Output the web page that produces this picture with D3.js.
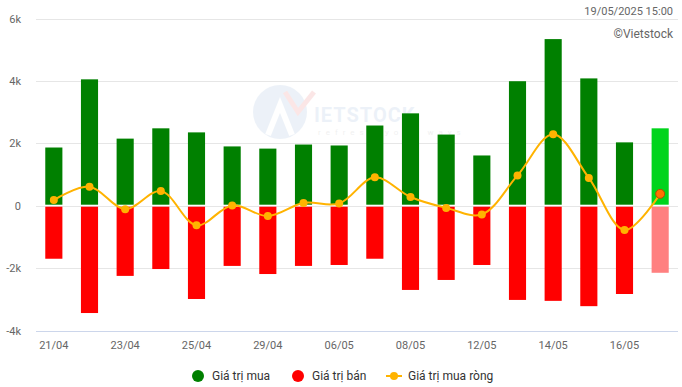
<!DOCTYPE html>
<meta charset="utf-8">
<script src="https://d3js.org/d3.v7.min.js"></script>
<style>
  body { margin: 0; background: #fff; }
  text { font-family: Roboto, "Noto Sans", sans-serif; }
</style>
<div id="my_dataviz"></div>

<script>
// dates (trading sessions)
var dates = ["21/04","22/04","23/04","24/04","25/04","28/04","29/04","05/05","06/05",
             "07/05","08/05","09/05","12/05","13/05","14/05","15/05","16/05","19/05"]
// ty dong
var buyValues  = [1865, 4050, 2150, 2480, 2350, 1900, 1830, 1960, 1930,
                  2570, 2960, 2280, 1610, 3990, 5340, 4080, 2030, 2480]
var sellValues = [-1700, -3440, -2250, -2030, -2990, -1930, -2190, -1930, -1900,
                  -1700, -2700, -2380, -1900, -3020, -3050, -3220, -2830, -2150]
var netValues  = [180, 610, -110, 470, -630, 10, -330, 90, 70,
                  910, 280, -70, -280, 970, 2290, 890, -780, 380]
var yTicks = [-4000, -2000, 0, 2000, 4000, 6000]
var legendNames = ["Giá trị mua", "Giá trị bán", "Giá trị mua ròng"]

var width = 682
var height = 387

var svg = d3.select("#my_dataviz")
  .append("svg")
    .attr("width", width)
    .attr("height", height)

var x = d3.scaleBand()
    .domain(dates)
    .range([36, 678])
    .paddingInner(0.52)
    .paddingOuter(0.26)

var y = d3.scaleLinear()
    .domain([-4000, 6000])
    .range([330.5, 18.5])

function fmtK(v) { return v == 0 ? "0" : (v / 1000) + "k" }

// watermark (faint logo)
var wm = svg.append("g").style("opacity", 0.12)
wm.append("circle")
  .attr("cx", 280).attr("cy", 112).attr("r", 27)
  .attr("fill", "#6b95c9")
wm.append("path")
  .attr("d", "M268 135 L280 105 L292 135")
  .attr("fill", "none").attr("stroke", "#fff").attr("stroke-width", 6)
wm.append("path")
  .attr("d", "M285 92 L298 112 L314 92")
  .attr("fill", "none").attr("stroke", "#e23b3b").attr("stroke-width", 5)
wm.append("text")
  .attr("x", 314).attr("y", 122)
  .style("font-size", "20px").style("font-weight", "bold")
  .style("letter-spacing", "1px")
  .attr("fill", "#6b95c9")
  .text("IETSTOCK")
wm.append("text")
  .attr("x", 318).attr("y", 135)
  .style("font-size", "8px")
  .style("letter-spacing", "5px")
  .attr("fill", "#888")
  .text("refresh your ways")

// grid lines
svg.append("g")
  .selectAll("line")
  .data(yTicks)
  .enter().append("line")
    .attr("x1", 36).attr("x2", 678)
    .attr("y1", function(d){ return Math.round(y(d)) + 0.5 })
    .attr("y2", function(d){ return Math.round(y(d)) + 0.5 })
    .attr("stroke", function(d){ return d == -4000 ? "#ccd6eb" : "#e6e6e6" })
    .attr("stroke-width", 1)

// y labels
svg.append("g")
  .selectAll("text")
  .data(yTicks)
  .enter().append("text")
    .attr("x", 21)
    .attr("y", function(d){ return y(d) + 4 })
    .attr("text-anchor", "end")
    .style("font-size", "11px")
    .attr("fill", "#666")
    .text(fmtK)

// x labels (every other date)
svg.append("g")
  .selectAll("text")
  .data(dates.filter(function(d, i){ return i % 2 == 0 }))
  .enter().append("text")
    .attr("x", function(d){ return x(d) + x.bandwidth() / 2 })
    .attr("y", 349)
    .attr("text-anchor", "middle")
    .style("font-size", "11px")
    .attr("fill", "#666")
    .text(function(d){ return d })

var last = dates.length - 1

// buy bars
svg.append("g")
  .selectAll("rect")
  .data(buyValues)
  .enter().append("rect")
    .attr("x", function(d, i){ return x(dates[i]) })
    .attr("width", x.bandwidth())
    .attr("y", function(d){ return y(d) })
    .attr("height", function(d){ return y(0) - y(d) - 1 })
    .attr("fill", function(d, i){ return i == last ? "#00d41c" : "#008000" })

// sell bars
svg.append("g")
  .selectAll("rect")
  .data(sellValues)
  .enter().append("rect")
    .attr("x", function(d, i){ return x(dates[i]) })
    .attr("width", x.bandwidth())
    .attr("y", y(0) + 1)
    .attr("height", function(d){ return y(d) - y(0) - 1 })
    .attr("fill", function(d, i){ return i == last ? "#ff8080" : "#ff0000" })

// net line
var line = d3.line()
    .x(function(d, i){ return x(dates[i]) + x.bandwidth() / 2 })
    .y(function(d){ return y(d) })
    .curve(d3.curveCatmullRom.alpha(0.5))

svg.append("path")
  .datum(netValues)
  .attr("d", line)
  .attr("fill", "none")
  .attr("stroke", "#ffb300")
  .attr("stroke-width", 2)

svg.append("g")
  .selectAll("circle")
  .data(netValues)
  .enter().append("circle")
    .attr("cx", function(d, i){ return x(dates[i]) + x.bandwidth() / 2 })
    .attr("cy", function(d){ return y(d) })
    .attr("r", function(d, i){ return i == last ? 4.5 : 4 })
    .attr("fill", function(d, i){ return i == last ? "#ff7000" : "#ffb300" })
    .attr("stroke", function(d, i){ return i == last ? "#b34d00" : "none" })
    .attr("stroke-width", 1)

// header texts
svg.append("text")
  .attr("x", 673).attr("y", 15)
  .attr("text-anchor", "end")
  .style("font-size", "11px")
  .attr("fill", "#666")
  .text("19/05/2025 15:00")

svg.append("text")
  .attr("x", 673).attr("y", 38)
  .attr("text-anchor", "end")
  .style("font-size", "12px")
  .attr("fill", "#666")
  .text("©Vietstock")

// legend
var legendX = [198, 298, 394]
var legendColors = ["#008000", "#ff0000", "#ffb300"]
var legend = svg.append("g")

legend.selectAll("g")
  .data(legendNames)
  .enter().append("g")
    .each(function(d, i) {
      var g = d3.select(this)
      if (i < 2) {
        g.append("circle")
          .attr("cx", legendX[i]).attr("cy", 376).attr("r", 6)
          .attr("fill", legendColors[i])
      } else {
        g.append("line")
          .attr("x1", legendX[i] - 8).attr("x2", legendX[i] + 8)
          .attr("y1", 376).attr("y2", 376)
          .attr("stroke", legendColors[i]).attr("stroke-width", 2)
        g.append("circle")
          .attr("cx", legendX[i]).attr("cy", 376).attr("r", 4)
          .attr("fill", legendColors[i])
      }
      g.append("text")
        .attr("x", legendX[i] + 14)
        .attr("y", 380)
        .style("font-size", "12px")
        .attr("fill", "#333")
        .text(d)
    })
</script>
